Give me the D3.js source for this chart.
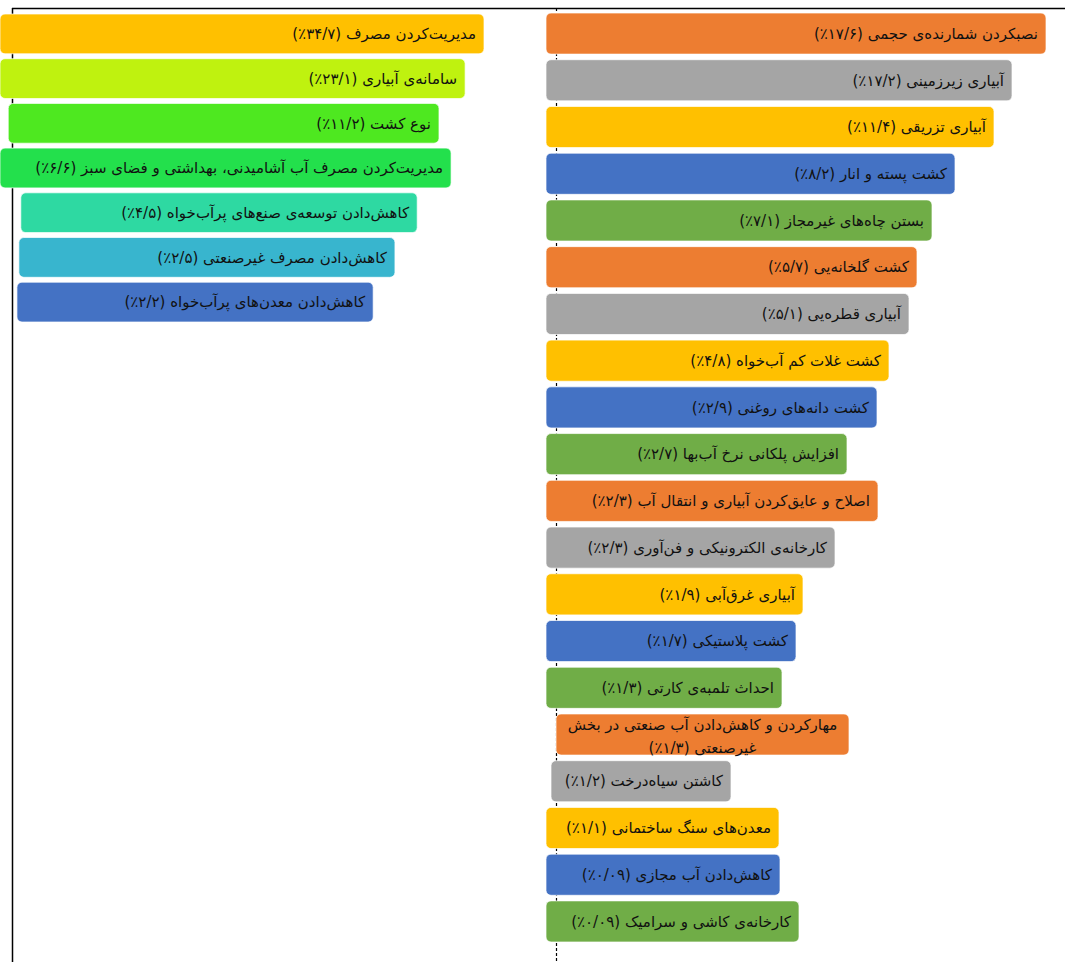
<!DOCTYPE html>
<meta charset="utf-8">
<style>
body {
  margin: 0;
  background: #fff;
}
.bar {
  stroke: #fff;
  stroke-opacity: 0.7;
  stroke-width: 1;
}
.label {
  font: 15px "DejaVu Sans", sans-serif;
  fill: #111;
}
.frame {
  fill: none;
  stroke: #000;
  stroke-width: 1.5;
}
</style>
<body></body>
<script src="https://cdnjs.cloudflare.com/ajax/libs/d3/7.8.5/d3.min.js"></script>
<script>
// left panel
var leftLabels = [
  "مدیریت‌کردن مصرف",
  "سامانه‌ی آبیاری",
  "نوع کشت",
  "مدیریت‌کردن مصرف آب آشامیدنی، بهداشتی و فضای سبز",
  "کاهش‌دادن توسعه‌ی صنع‌های پرآب‌خواه",
  "کاهش‌دادن مصرف غیرصنعتی",
  "کاهش‌دادن معدن‌های پرآب‌خواه"
];
var leftValues = [34.7, 23.1, 11.2, 6.6, 4.5, 2.5, 2.2];
// bar extents (0-100 of the longest bar)
var leftStart = [0, 0, 1.7, 0, 4.3, 3.9, 3.5];
var leftEnd = [100, 96.1, 90.7, 93.2, 86.2, 81.6, 77.1];
var leftColors = ["#FFC000", "#BFF20F", "#4EE820", "#23E04C", "#2ED9A2", "#38B5CE", "#4472C4"];

// right panel
var rightLabels = [
  "نصبکردن شمارنده‌ی حجمی",
  "آبیاری زیرزمینی",
  "آبیاری تزریقی",
  "کشت پسته و انار",
  "بستن چاه‌های غیرمجاز",
  "کشت گلخانه‌یی",
  "آبیاری قطره‌یی",
  "کشت غلات کم آب‌خواه",
  "کشت دانه‌های روغنی",
  "افزایش پلکانی نرخ آب‌بها",
  "اصلاح و عایق‌کردن آبیاری و انتقال آب",
  "کارخانه‌ی الکترونیکی و فن‌آوری",
  "آبیاری غرق‌آبی",
  "کشت پلاستیکی",
  "احداث تلمبه‌ی کارتی",
  "مهارکردن و کاهش‌دادن آب صنعتی در بخش\nغیرصنعتی",
  "کاشتن سیاه‌درخت",
  "معدن‌های سنگ ساختمانی",
  "کاهش‌دادن آب مجازی",
  "کارخانه‌ی کاشی و سرامیک"
];
var rightValues = [17.6, 17.2, 11.4, 8.2, 7.1, 5.7, 5.1, 4.8, 2.9, 2.7, 2.3, 2.3, 1.9, 1.7, 1.3, 1.3, 1.2, 1.1, 0.09, 0.09];
var rightStart = [0, 0, 0, 0, 0, 0, 0, 0, 0, 0, 0, 0, 0, 0, 0, 2, 1, 0, 0, 0];
var rightEnd = [100, 93.2, 89.6, 81.8, 77.2, 74.2, 72.6, 68.6, 66.2, 60.2, 66.4, 57.8, 51.4, 50, 47.2, 60.6, 37, 46.6, 46.8, 50.6];
var rightColors = ["#ED7D31", "#A5A5A5", "#FFC000", "#4472C4", "#70AD47"];

var width = 1065, height = 962;

var svg = d3.select("body").append("svg")
    .attr("width", width)
    .attr("height", height);

var faDigits = "۰۱۲۳۴۵۶۷۸۹";
function fa(v) {
  return String(v).replace(".", "/").replace(/[0-9]/g, function(c) { return faDigits[+c]; });
}

// frame lines (drawn behind the bars)
svg.append("line").attr("class", "frame")
    .attr("x1", 12).attr("x2", width).attr("y1", 8.5).attr("y2", 8.5);
svg.append("line").attr("class", "frame")
    .attr("x1", 12.5).attr("x2", 12.5).attr("y1", 8).attr("y2", height);
svg.append("line").attr("class", "frame")
    .attr("x1", 556.5).attr("x2", 556.5).attr("y1", 8).attr("y2", height)
    .style("stroke-width", 1.2)
    .style("stroke-dasharray", "3,2");

function panel(labels, values, starts, ends, colors, xScale, yScale) {
  var data = labels.map(function(d, i) {
    return {name: d, value: values[i], s: starts[i], e: ends[i], i: i};
  });
  var g = svg.append("g");
  var rows = g.selectAll(".row")
      .data(data)
      .enter().append("g")
      .attr("class", "row");

  rows.append("rect")
      .attr("class", "bar")
      .attr("x", function(d) { return xScale(d.s); })
      .attr("y", function(d) { return yScale(d.i); })
      .attr("width", function(d) { return xScale(d.e) - xScale(d.s); })
      .attr("height", yScale.bandwidth())
      .attr("rx", 5)
      .style("fill", function(d) { return colors[d.i % colors.length]; });

  rows.each(function(d) {
    var lines = d.name.split("\n");
    var txt = d3.select(this).append("text")
        .attr("class", "label")
        .attr("direction", "rtl");
    var cy = yScale(d.i) + yScale.bandwidth() / 2;
    if (lines.length === 1) {
      txt.attr("x", xScale(d.e) - 8)
          .attr("y", cy)
          .attr("dy", "0.35em")
          .attr("text-anchor", "start")
          .text(d.name + " (" + fa(d.value) + "٪)");
    } else {
      // two-line label, centred in its box
      var mid = (xScale(d.s) + xScale(d.e)) / 2;
      lines[lines.length - 1] += " (" + fa(d.value) + "٪)";
      txt.attr("text-anchor", "middle");
      lines.forEach(function(l, k) {
        txt.append("tspan")
            .attr("x", mid)
            .attr("y", cy + 2 + (k - (lines.length - 1) / 2) * 23)
            .attr("dy", "0.35em")
            .text(l);
      });
    }
  });
}

var xLeft = d3.scaleLinear().domain([0, 100]).range([0, 484]);
var yLeft = d3.scaleBand().domain(d3.range(leftLabels.length)).range([14, 322]).paddingInner(0.11);
panel(leftLabels, leftValues, leftStart, leftEnd, leftColors, xLeft, yLeft);

var xRight = d3.scaleLinear().domain([0, 100]).range([546, 1046]);
var yRight = d3.scaleBand().domain(d3.range(rightLabels.length)).range([13, 942]).paddingInner(0.12);
panel(rightLabels, rightValues, rightStart, rightEnd, rightColors, xRight, yRight);
</script>
